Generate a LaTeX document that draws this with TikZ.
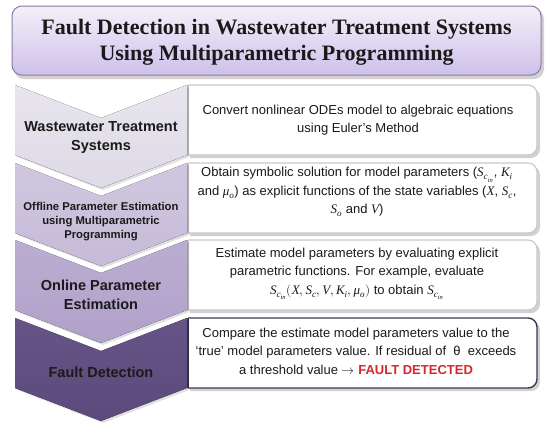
\documentclass[tikz,border=0pt]{standalone}
\usepackage{fontspec}
\usepackage{unicode-math}
\setmainfont{Liberation Sans}
\setmathfont{Latin Modern Math}
\setmathfont[range=it]{Liberation Serif Italic}
\newfontfamily\titlefont{Liberation Serif}
\definecolor{titletop}{HTML}{F4F0FA}
\definecolor{titlebot}{HTML}{CEC0EA}
\definecolor{titleborder}{HTML}{8A7BA0}
\definecolor{chevA}{HTML}{DEDAE6}
\definecolor{chevAt}{HTML}{E8E5EE}
\definecolor{chevB}{HTML}{C6BBD8}
\definecolor{chevBt}{HTML}{D0C7DF}
\definecolor{chevC}{HTML}{B1A1CA}
\definecolor{chevCt}{HTML}{BBADD1}
\definecolor{chevD}{HTML}{5D4A7C}
\definecolor{chevDt}{HTML}{665486}
\definecolor{boxborder}{HTML}{C9C8CE}
\definecolor{boxdark}{HTML}{3E3552}
\definecolor{faultred}{HTML}{D5272C}
\definecolor{textdark}{HTML}{1A1A1A}
\tikzset{
  shadowfill/.style={fill=black, opacity=0.18},
  chevshadow/.style={fill=black, opacity=0.12},
  chevtext/.style={align=center, text=textdark, inner sep=0pt},
  bigchev/.style={font=\bfseries\fontsize{14.5}{19}\selectfont},
  smallchev/.style={font=\bfseries\fontsize{11.3}{14}\selectfont},
  boxtext/.style={align=center, text=textdark, inner sep=0pt, font=\fontsize{13}{18.5}\selectfont},
  rowbox/.style={fill=white, draw=boxborder, line width=1.1pt, rounded corners=9pt},
  rowboxdark/.style={fill=white, draw=boxdark, line width=1.4pt, rounded corners=9pt},
}
\begin{document}
\begin{tikzpicture}[x=1pt,y=-1pt]
\useasboundingbox (0,0) rectangle (550,429);
% title
\fill[shadowfill, rounded corners=10pt] (14,9) rectangle (544,79);
\draw[draw=titleborder, line width=1pt, rounded corners=10pt, top color=titletop, bottom color=titlebot] (12,6) rectangle (541,75);
\node[align=center, text=textdark, inner sep=0pt, font=\titlefont\bfseries\fontsize{22}{26}\selectfont] (title) at (276.5,42) {Fault Detection in Wastewater Treatment Systems\\Using Multiparametric Programming};

% row boxes (shadows first)
\foreach \t in {85,163,240,318}{
  \fill[shadowfill, rounded corners=9pt] (190,\t+3) -- (540,\t+3) -- (540,\t+73) -- (190,\t+73);
}
\foreach \t in {85,163,240}{
  \draw[rowbox] (188,\t) -- (537,\t) -- (537,\t+70) -- (188,\t+70);
  \draw[draw=boxborder, line width=1.1pt] (188,\t) -- (188,\t+70);
}
\draw[rowboxdark] (188,318) -- (537,318) -- (537,388) -- (188,388);
\draw[draw=boxdark, line width=1.4pt] (188,318) -- (188,388);

% chevrons
\foreach \t/\ca/\cb in {85/chevAt/chevA,163/chevBt/chevB,240/chevCt/chevC,318/chevDt/chevD}{
  \fill[chevshadow] (17,\t+2) -- (103,\t+35) -- (189,\t+2) -- (189,\t+72) -- (103,\t+105) -- (17,\t+72) -- cycle;
  \fill[top color=\ca, bottom color=\cb] (15,\t) -- (101,\t+33) -- (187,\t) -- (187,\t+70) -- (101,\t+103) -- (15,\t+70) -- cycle;
}

% chevron texts
\node[chevtext, bigchev] (c1) at (101,137.5) {Wastewater Treatment\\Systems};
\node[chevtext, smallchev] (c2) at (101,222) {Offline Parameter Estimation\\using Multiparametric\\Programming};
\node[chevtext, bigchev] (c3) at (101,295) {Online Parameter\\Estimation};
\node[chevtext, bigchev] (c4) at (101,372) {Fault Detection};

% box texts
\node[boxtext] (b1) at (358,120) {Convert nonlinear ODEs model to algebraic equations\\using Euler’s Method};
\node[boxtext] (b2) at (357,192) {Obtain symbolic solution for model parameters ($S_{c_{in}}$, $K_i$\\and $\mu_o$) as explicit functions of the state variables ($X$, $S_c$,\\$S_o$ and $V$)};
\node[boxtext] (b3) at (357,274) {Estimate model parameters by evaluating explicit\\parametric functions. For example, evaluate\\$S_{c_{in}}(X,S_c,V,K_i,\mu_o)$ to obtain $S_{c_{in}}$};
\node[boxtext] (b4) at (356,351) {Compare the estimate model parameters value to the\\‘true’ model parameters value. If residual of~ θ~ exceeds\\a threshold value $\rightarrow$ {\bfseries\color{faultred}FAULT DETECTED}};
\end{tikzpicture}
\end{document}
